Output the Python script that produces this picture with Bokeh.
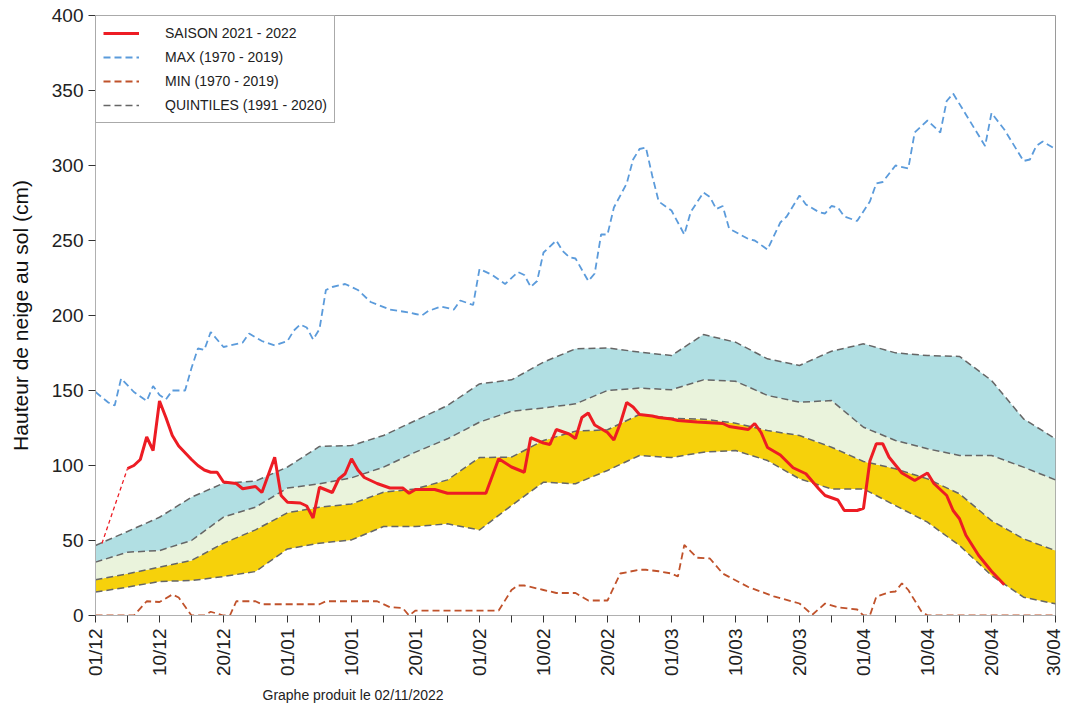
from bokeh.plotting import figure
from bokeh.models import FixedTicker, Range1d, Legend, LegendItem, Title
from bokeh.embed import file_html
from bokeh.resources import INLINE
import math

# ---- x axis: day index from 01/12 (0) to 30/04 (150) ----
tick_days = list(range(0, 151, 5))
tick_labels = ["01/12", "10/12", "20/12", "01/01", "10/01", "20/01", "01/02", "10/02",
               "20/02", "01/03", "10/03", "20/03", "01/04", "10/04", "20/04", "30/04"]

# ---- quintiles (1991-2020), every 5 days ----
q_days = list(range(0, 151, 5))
q20 = [15.6, 18.9, 22.7, 23.3, 26, 29.3, 44.4, 48.2, 50.4, 59.3, 59.3, 61.1, 57, 73.3, 88.9,
       87.8, 96.7, 106.7, 105.3, 108.9, 110, 103.3, 91.1, 84.4, 84.4, 73.3, 62.2, 46.7, 26.7, 12.2, 7.8]
q40 = [23.8, 27.8, 32.2, 36.7, 48.2, 57.1, 68.5, 72.2, 74.4, 82.2, 84.4, 90.4, 105.3, 105.6, 116.7,
       122.9, 123.8, 134, 131.5, 130.9, 128.2, 123.3, 120, 112.2, 102.7, 97.8, 91.1, 81.1, 63.3, 51.1, 43.3]
q60 = [35.6, 42.2, 43.3, 50, 65.6, 72.2, 85, 87.8, 91.8, 98.9, 108.9, 117.8, 128.9, 136.2, 138.4,
       141.1, 150, 151.6, 150.5, 157.1, 156.2, 146.7, 142.2, 143.3, 125.5, 116.7, 111.1, 106.7, 106.7, 98.9, 90.4]
q80 = [46.7, 56, 65.5, 78.9, 88.2, 89.6, 99, 112.7, 113.3, 120, 130, 140, 154.4, 157.1, 168.9,
       177.8, 178.4, 175.6, 173.3, 187.3, 182.2, 171.1, 166.7, 176.2, 181.1, 175.1, 173.3, 172.7, 156.7, 131.1, 117.8]

# ---- season 2021-2022 ----
s_start_days = [1, 5]
s_start_vals = [48, 98]
s_days = [5, 6, 7, 8, 9, 10, 11, 12, 13, 15, 16, 17, 18, 19, 20, 22, 23, 25, 26, 28, 29, 30,
          32, 33, 34, 35, 37, 38, 39, 40, 41, 42, 44, 46, 48, 49, 50, 53, 55, 61, 63, 65, 67,
          68, 70, 71, 72, 74, 75, 76, 77, 78, 80, 81, 82, 83, 84, 85, 87, 88, 90, 91, 94, 98,
          99, 102, 103, 104, 105, 107, 109, 111, 113, 114, 116, 117, 119, 120, 121, 122, 123,
          124, 126, 128, 130, 131, 133, 134, 135, 136, 138, 140, 142]
s_vals = [98, 100, 104, 119, 110, 143, 132, 120, 113, 104, 100, 97, 95.5, 95.5, 89, 88, 84.5,
          86, 82, 105.5, 80, 75.5, 75, 73, 65, 85.5, 82, 91, 94.5, 104.5, 97, 92, 88, 85, 85,
          81.5, 84, 84, 81.5, 81.5, 104.5, 99, 95.5, 118.5, 115, 114, 124, 121, 118, 132, 135,
          127, 122, 117, 128, 142, 139, 134, 133, 132, 131, 130, 129, 128, 126, 124, 128, 122,
          112, 107, 98.5, 94.5, 84.5, 80, 77, 70, 70, 71.5, 103, 114.5, 114.5, 105.5, 95, 90,
          95, 88, 80, 70, 64.5, 53.5, 40, 29.5, 20.5]

# ---- max (1970-2019) ----
max_days = [0, 2, 3, 4, 6, 8, 9, 10, 11, 12, 14, 15, 16, 17, 18, 20, 23, 24, 26, 28, 30, 31,
            32, 33, 34, 35, 36, 37, 39, 41, 43, 46, 49, 50, 51, 52, 54, 56, 57, 59, 60, 62, 64,
            66, 67, 68, 69, 70, 72, 73, 74, 75, 77, 78, 79, 80, 81, 83, 84, 85, 86, 87, 88, 90,
            92, 93, 95, 96, 97, 98, 99, 102, 103, 105, 107, 108, 110, 111, 113, 114, 115, 116,
            117, 119, 121, 122, 123, 125, 127, 128, 130, 132, 133, 134, 136, 139, 140, 142, 145,
            146, 147, 148, 150]
max_vals = [149, 142, 140, 158, 149, 143, 153, 147, 144, 150, 150, 165, 178, 177, 189, 179, 182,
            188, 183, 180, 183, 190, 194, 192, 184, 191, 217, 219, 221, 217, 209, 204, 202, 201,
            200, 203, 206, 204, 210, 207, 231, 227, 221, 229, 227, 219, 223, 242, 250, 243, 239,
            238, 223, 228, 254, 254, 272, 288, 304, 311, 312, 293, 276, 270, 254, 269, 282, 279,
            271, 273, 258, 251, 250, 244, 262, 266, 280, 274, 269, 268, 273, 272, 266, 263, 276,
            288, 289, 300, 298, 322, 330, 322, 343, 348, 334, 313, 335, 324, 303, 304, 313, 316, 311]

# ---- min (1970-2019) ----
min_days = [0, 6, 8, 10, 12, 13, 15, 17, 18, 20, 21, 22, 25, 26, 35, 36, 44, 46, 48, 49, 50,
            63, 65, 66, 67, 70, 72, 75, 77, 80, 82, 85, 86, 88, 90, 91, 92, 94, 96, 98, 102,
            106, 110, 112, 114, 116, 119, 120, 121, 122, 124, 125, 126, 127, 129, 130, 150]
min_vals = [0, 0, 9.5, 9, 14, 12, 0, 0, 2.5, 0, 0, 9.5, 9.5, 7.5, 7.5, 9.5, 9.5, 5.5, 5, 0, 3.3,
            3.3, 17, 20, 20, 17, 15, 15, 10, 10, 28, 30.5, 30.5, 29.5, 28, 26, 47, 38.5, 38, 28,
            19, 12.7, 8, 0.5, 8, 5.5, 4, 0, 0, 12.5, 15.5, 16, 21.5, 17, 3, 0, 0]

FONT = "Liberation Sans"

p = figure(frame_width=960, frame_height=600, output_backend="svg", toolbar_location=None,
           x_range=Range1d(0, 150), y_range=Range1d(0, 400),
           min_border_left=95, min_border_top=15, min_border_right=8, min_border_bottom=2)
p.background_fill_color = "white"
p.outline_line_color = "#9a9a9a"
p.xgrid.visible = False
p.ygrid.visible = False

# bands
p.varea(x=q_days, y1=q20, y2=q40, fill_color="#F6D10B")
p.varea(x=q_days, y1=q40, y2=q60, fill_color="#EAF3DC")
p.varea(x=q_days, y1=q60, y2=q80, fill_color="#B1DFE3")
qr = None
for q in (q20, q40, q60, q80):
    qr = p.line(q_days, q, line_color="#666666", line_width=1.5, line_dash="7 4")

rmax = p.line(max_days, max_vals, line_color="#5B9BDB", line_width=1.8, line_dash="7 4")
rmin = p.line(min_days, min_vals, line_color="#C0522B", line_width=1.8, line_dash="7 4")
p.line(s_start_days, s_start_vals, line_color="#ED1C24", line_width=1.3, line_dash="4 3")
rs = p.line(s_days, s_vals, line_color="#ED1C24", line_width=3)

# axes
p.xaxis.ticker = FixedTicker(ticks=tick_days)
p.xaxis.major_label_overrides = {d: (tick_labels[d // 10] if d % 10 == 0 else "") for d in tick_days}
p.xaxis.major_label_orientation = math.pi / 2
p.xaxis.minor_tick_line_color = None
p.yaxis.ticker = FixedTicker(ticks=list(range(0, 401, 50)))
p.yaxis.minor_tick_line_color = None
for ax in (p.xaxis[0], p.yaxis[0]):
    ax.axis_line_color = "#b0b0b0"
    ax.major_tick_line_color = "#333333"
    ax.major_tick_in = 0
    ax.major_tick_out = 7
    ax.major_label_text_font = FONT
    ax.major_label_text_color = "#222222"
    ax.major_label_standoff = 5
p.xaxis.major_label_text_font_size = "19px"
p.xaxis.major_label_standoff = 6
p.yaxis.major_label_text_font_size = "19px"
p.yaxis.axis_label = "Hauteur de neige au sol (cm)"
p.yaxis.axis_label_text_font = FONT
p.yaxis.axis_label_text_font_size = "21px"
p.yaxis.axis_label_text_font_style = "normal"
p.yaxis.axis_label_text_color = "#111111"
p.yaxis.axis_label_standoff = 17

legend = Legend(items=[
    LegendItem(label="SAISON 2021 - 2022", renderers=[rs]),
    LegendItem(label="MAX (1970 - 2019)", renderers=[rmax]),
    LegendItem(label="MIN (1970 - 2019)", renderers=[rmin]),
    LegendItem(label="QUINTILES (1991 - 2020)", renderers=[qr]),
], location="top_left")
legend.margin = 0
legend.padding = 7
legend.spacing = 4
legend.label_height = 20
legend.glyph_height = 20
legend.glyph_width = 36
legend.label_standoff = 26
legend.label_text_font = FONT
legend.label_text_font_size = "14px"
legend.label_text_color = "#222222"
legend.border_line_color = "#555555"
legend.border_line_width = 1
legend.background_fill_color = "white"
legend.background_fill_alpha = 1
p.add_layout(legend, "center")

credit = Title(text="Graphe produit le 02/11/2022", align="left", offset=167,
               text_font=FONT, text_font_size="14px", text_font_style="normal", text_color="#222222")
p.add_layout(credit, "below")

open("out.html", "w").write(file_html(p, INLINE))
